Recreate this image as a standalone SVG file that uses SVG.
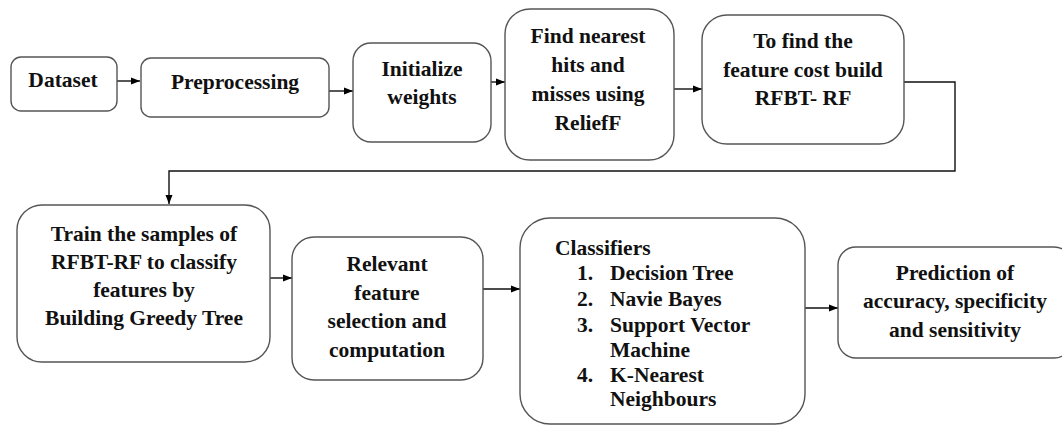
<svg xmlns="http://www.w3.org/2000/svg" width="1062" height="427" viewBox="0 0 1062 427">
<defs>
<marker id="ah" markerUnits="userSpaceOnUse" markerWidth="10" markerHeight="8" refX="9" refY="4" orient="auto">
<path d="M0,0.5 L9,4 L0,7.5 z" fill="#000"/>
</marker>
<style>
.box{fill:#fff;stroke:#555;stroke-width:1.4}
.t{text-anchor:middle}
.c{fill:none;stroke:#111;stroke-width:1.4}
</style>
</defs>
<rect width="1062" height="427" fill="#fff"/>
<g id="connectors">
<line class="c" x1="117" y1="81" x2="140" y2="81" marker-end="url(#ah)"/>
<line class="c" x1="329" y1="91" x2="353" y2="91" marker-end="url(#ah)"/>
<line class="c" x1="491" y1="82" x2="505" y2="82" marker-end="url(#ah)"/>
<line class="c" x1="674" y1="89" x2="702" y2="89" marker-end="url(#ah)"/>
<polyline class="c" points="904,82 955,82 955,171 169,171 169,204" marker-end="url(#ah)"/>
<line class="c" x1="270" y1="278" x2="292" y2="278" marker-end="url(#ah)"/>
<line class="c" x1="483" y1="289" x2="520" y2="289" marker-end="url(#ah)"/>
<line class="c" x1="805" y1="308" x2="838" y2="308" marker-end="url(#ah)"/>
</g>
<g font-family="Liberation Serif, Times New Roman, serif" font-weight="bold" font-size="21.5" fill="#111">
<g id="dataset">
<rect class="box" x="11" y="57" width="106" height="54" rx="10"/>
<text class="t" x="63" y="87">Dataset</text>
</g>
<g id="preprocessing">
<rect class="box" x="141" y="58" width="188" height="59" rx="10"/>
<text class="t" x="235" y="89">Preprocessing</text>
</g>
<g id="initialize">
<rect class="box" x="353" y="43" width="138" height="99" rx="18"/>
<text class="t" x="422" y="76">Initialize</text>
<text class="t" x="422" y="104">weights</text>
</g>
<g id="findnearest">
<rect class="box" x="505" y="9" width="169" height="151" rx="25"/>
<text class="t" x="588" y="43">Find nearest</text>
<text class="t" x="588" y="72">hits and</text>
<text class="t" x="588" y="101">misses using</text>
<text class="t" x="588" y="130">ReliefF</text>
</g>
<g id="featurecost">
<rect class="box" x="702" y="15" width="202" height="129" rx="25"/>
<text class="t" x="803" y="48">To find the</text>
<text class="t" x="803" y="77">feature cost build</text>
<text class="t" x="803" y="105">RFBT- RF</text>
</g>
<g id="train">
<rect class="box" x="17" y="205" width="253" height="157" rx="25"/>
<text class="t" x="144" y="241">Train the samples of</text>
<text class="t" x="144" y="269">RFBT-RF to classify</text>
<text class="t" x="144" y="297">features by</text>
<text class="t" x="144" y="325">Building Greedy Tree</text>
</g>
<g id="relevant">
<rect class="box" x="292" y="237" width="191" height="143" rx="22"/>
<text class="t" x="387" y="271">Relevant</text>
<text class="t" x="387" y="300">feature</text>
<text class="t" x="387" y="328">selection and</text>
<text class="t" x="387" y="357">computation</text>
</g>
<g id="classifiers">
<rect class="box" x="520" y="218" width="285" height="206" rx="30"/>
<text x="555" y="255">Classifiers</text>
<text x="577" y="280">1.</text><text x="610" y="280">Decision Tree</text>
<text x="577" y="306">2.</text><text x="610" y="306">Navie Bayes</text>
<text x="577" y="332">3.</text><text x="610" y="332">Support Vector</text>
<text x="610" y="357">Machine</text>
<text x="577" y="382">4.</text><text x="610" y="382">K-Nearest</text>
<text x="610" y="406">Neighbours</text>
</g>
<g id="prediction">
<rect class="box" x="838" y="247" width="234" height="111" rx="18"/>
<text class="t" x="955" y="280">Prediction of</text>
<text class="t" x="955" y="308">accuracy, specificity</text>
<text class="t" x="955" y="337">and sensitivity</text>
</g>
</g>
</svg>
